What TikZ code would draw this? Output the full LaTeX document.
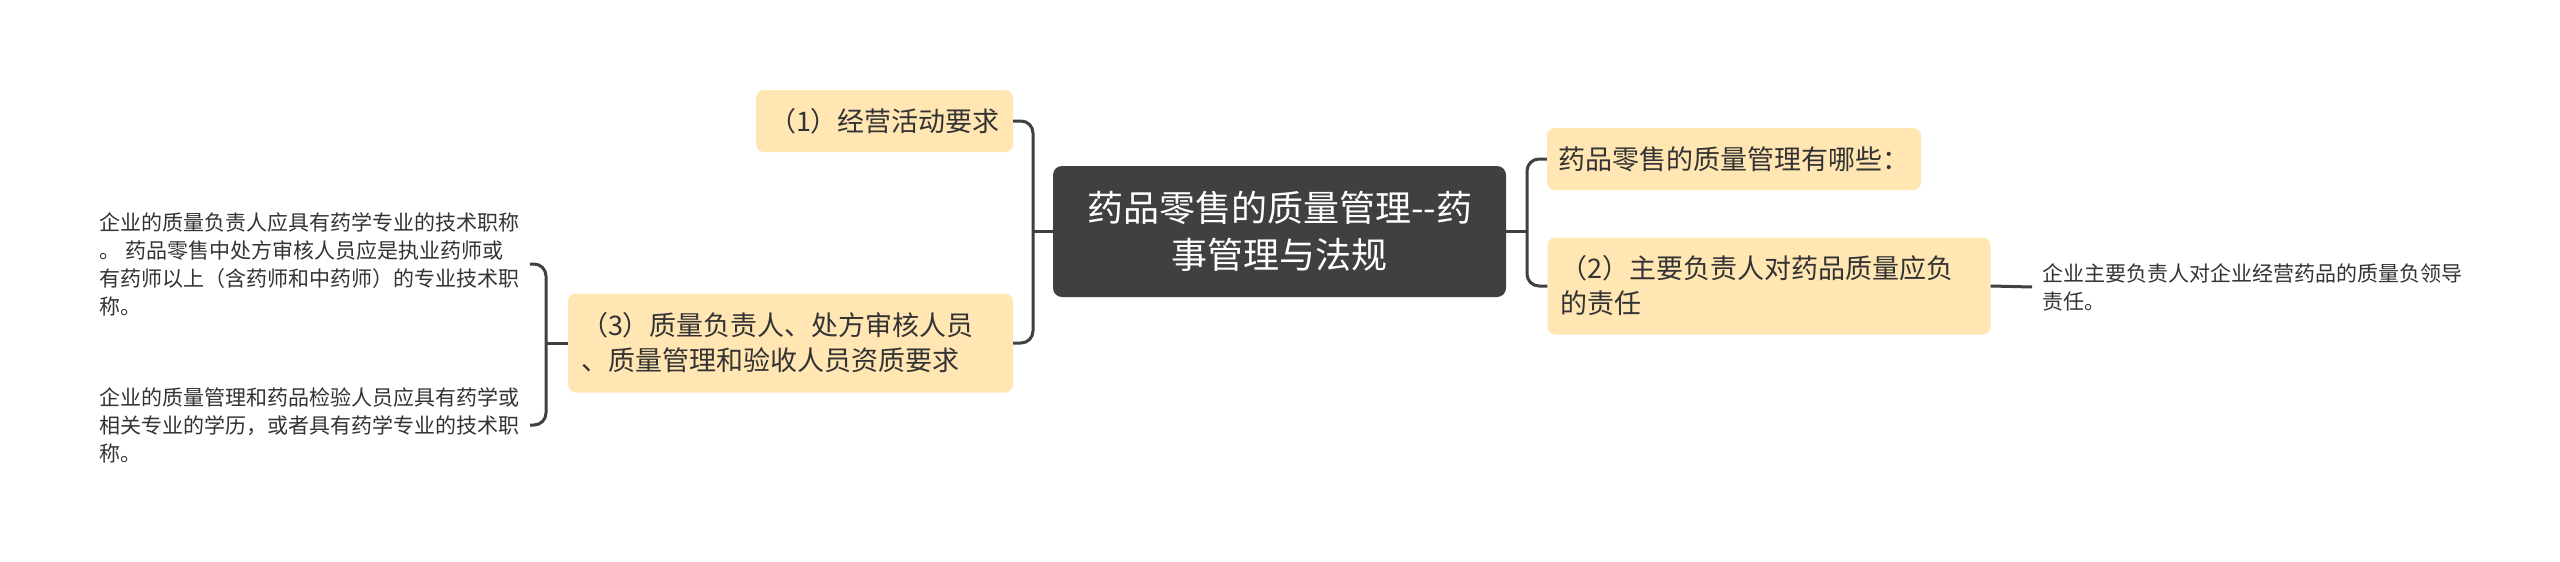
\documentclass[tikz,border=0pt]{standalone}
\usepackage{fontspec}
\setmainfont{Noto Sans CJK SC}
\definecolor{peach}{HTML}{FFE6B3}
\definecolor{dark}{HTML}{404040}
\definecolor{txt}{HTML}{333333}
\begin{document}
\begin{tikzpicture}[x=1pt,y=-1pt,
  conn/.style={draw=dark,line width=3pt,rounded corners=12pt},
  root/.style={fill=dark,rounded corners=9pt,text=white,align=center,
    font=\fontsize{36}{47}\selectfont,inner xsep=20pt,inner ysep=0pt,
    text width=413pt,minimum height=131pt},
  sub/.style={fill=peach,rounded corners=8pt,text=txt,align=left,
    font=\fontsize{27}{35}\selectfont,inner ysep=0pt,inner xsep=13pt},
  leaf/.style={text=txt,align=left,font=\fontsize{21}{28}\selectfont,
    inner xsep=10pt,inner ysep=0pt}]
\path[use as bounding box,fill=white] (0,0) rectangle (2560,562);
\node[root] (c) at (1279.5,231.5) {药品零售的质量管理-\kern0pt-药\\事管理与法规};
\node[sub,text width=231pt,minimum height=62pt] (n1) at (884.5,121) {（1）经营活动要求};
\node[sub,text width=419pt,minimum height=99pt] (n3) at (790.5,343) {（3）质量负责人、处方审核人员\\、质量管理和验收人员资质要求};
\node[sub,text width=352pt,inner xsep=11pt,minimum height=62pt] (na) at (1734,159) {药品零售的质量管理有哪些：};
\node[sub,text width=417pt,minimum height=97pt] (n2) at (1769,286) {（2）主要负责人对药品质量应负\\的责任};
\node[leaf,anchor=west] (lr) at (2032,287) {企业主要负责人对企业经营药品的质量负领导\\责任。};
\node[leaf,anchor=east] (l1) at (530,264) {企业的质量负责人应具有药学专业的技术职称\\。 药品零售中处方审核人员应是执业药师或\\有药师以上（含药师和中药师）的专业技术职\\称。};
\node[leaf,anchor=east] (l2) at (530,425) {企业的质量管理和药品检验人员应具有药学或\\相关专业的学历，或者具有药学专业的技术职\\称。};
\coordinate (bl) at (1033,0);
\coordinate (br) at (1527,0);
\coordinate (bx) at (546,0);
\draw[conn] (n1.east) -| (bl |- n3.east) -- (n3.east);
\draw[conn] (c.west) -- (c.west -| bl);
\draw[conn] (na.west) -| (br |- n2.west) -- (n2.west);
\draw[conn] (c.east) -- (c.east -| br);
\draw[conn] (n2.east) -- (lr.west);
\draw[conn] (l1.east) -| (bx |- l2.east) -- (l2.east);
\draw[conn] (n3.west) -- (n3.west -| bx);
\end{tikzpicture}
\end{document}
